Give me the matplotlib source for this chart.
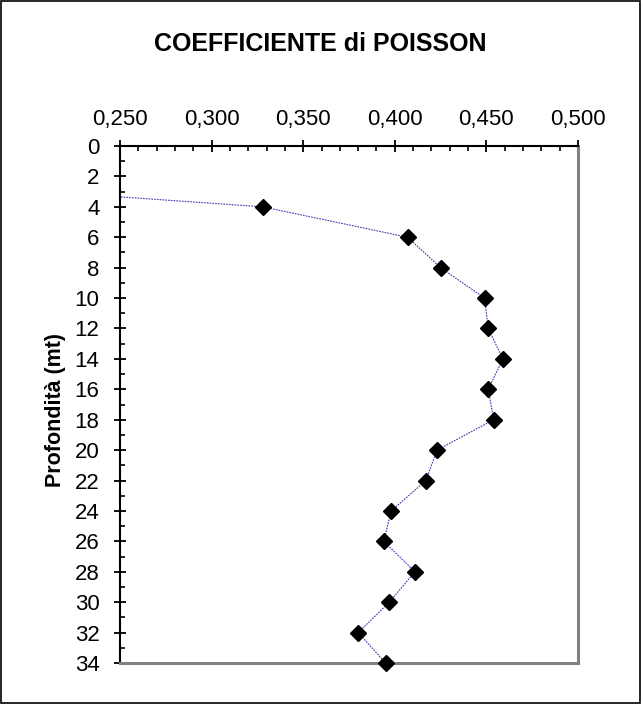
import matplotlib.pyplot as plt
from matplotlib.ticker import MultipleLocator, FuncFormatter
from matplotlib.patches import Rectangle

plt.rcParams['font.family'] = ['Liberation Sans', 'DejaVu Sans']

# profondita (m) e coefficiente di Poisson
depth = [2, 4, 6, 8, 10, 12, 14, 16, 18, 20, 22, 24, 26, 28, 30, 32, 34]
poisson = [0.090, 0.328, 0.407, 0.425, 0.449, 0.451, 0.459, 0.451, 0.454,
           0.423, 0.417, 0.398, 0.394, 0.411, 0.397, 0.380, 0.395]

fig = plt.figure(figsize=(6.41, 7.04), dpi=100)
fig.patches.append(Rectangle((0.0015, 0.0015), 0.997, 0.997, transform=fig.transFigure,
                             fill=False, edgecolor='black', linewidth=1.2))

ax = fig.add_axes([0.1872, 0.0582, 0.7145, 0.7344])
xmin, xmax = 0.25, 0.5

# linea tagliata al bordo, marker interi anche sul bordo inferiore
ax.plot(poisson, depth, color='#3a3ab0', linewidth=0.8, linestyle=(0, (1.5, 1)))
vis = [(p, d) for p, d in zip(poisson, depth) if xmin <= p <= xmax]
ax.plot([v[0] for v in vis], [v[1] for v in vis], linestyle='none', marker='D',
        markersize=8, markerfacecolor='black', markeredgecolor='black',
        clip_on=False, zorder=5)

ax.set_xlim(xmin, xmax)
ax.set_ylim(34, 0)
ax.xaxis.set_major_locator(MultipleLocator(0.05))
ax.xaxis.set_minor_locator(MultipleLocator(0.01))
ax.yaxis.set_major_locator(MultipleLocator(2))
ax.yaxis.set_minor_locator(MultipleLocator(1))
ax.xaxis.set_major_formatter(FuncFormatter(lambda v, p: f'{v:.3f}'.replace('.', ',')))

ax.xaxis.tick_top()
ax.tick_params(which='major', direction='inout', length=8.6, width=1.3, labelsize=16,
               color='black', top=True, bottom=False)
ax.tick_params(which='minor', direction='in', length=3.6, width=1.2, top=True, bottom=False)
ax.tick_params(axis='x', which='major', pad=7)
ax.tick_params(axis='y', which='major', pad=10.5)

for side in ('left', 'top'):
    ax.spines[side].set_color('black')
    ax.spines[side].set_linewidth(1.5)
for side in ('right', 'bottom'):
    ax.spines[side].set_color('#808080')
    ax.spines[side].set_linewidth(2.2)

ax.set_ylabel('Profondità (mt)', fontsize=15.5, fontweight='bold')
ax.yaxis.set_label_coords(-0.118, 0.489)
fig.text(0.5, 0.9375, 'COEFFICIENTE di POISSON', ha='center', va='center',
         fontsize=18, fontweight='bold')

fig.savefig('out.png', dpi=100)
